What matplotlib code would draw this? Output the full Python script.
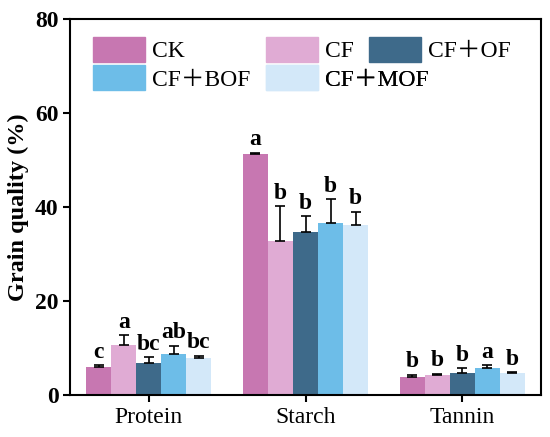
import numpy as np
import matplotlib
matplotlib.use('Agg')
import matplotlib.pyplot as plt
from matplotlib.patches import Patch

plt.rcParams['font.family'] = ['Liberation Serif', 'Noto Sans CJK SC']

# Datos
categorias = ['Protein', 'Starch', 'Tannin']
tratamientos = ['CK', 'CF', 'CF＋OF', 'CF＋BOF', 'CF＋MOF']
colores = ['#c777b1', '#e0abd4', '#3e6a8a', '#6dbde8', '#d3e8f9']

valores = {
    'CK':      [6.0, 51.3, 4.0],
    'CF':      [10.8, 32.8, 4.3],
    'CF＋OF':  [7.0, 34.7, 4.7],
    'CF＋BOF': [8.9, 36.7, 5.9],
    'CF＋MOF': [8.0, 36.3, 4.7],
}
errores = {
    'CK':      [0.5, 0.3, 0.4],
    'CF':      [2.0, 7.4, 0.3],
    'CF＋OF':  [1.1, 3.4, 1.1],
    'CF＋BOF': [1.7, 5.1, 0.5],
    'CF＋MOF': [0.5, 2.8, 0.3],
}
letras = {
    'CK':      ['c', 'a', 'b'],
    'CF':      ['a', 'b', 'b'],
    'CF＋OF':  ['bc', 'b', 'b'],
    'CF＋BOF': ['ab', 'b', 'a'],
    'CF＋MOF': ['bc', 'b', 'b'],
}

fig, ax = plt.subplots(figsize=(5.5, 4.37), dpi=100)
fig.subplots_adjust(left=0.128, right=0.983, top=0.956, bottom=0.095)

x = np.arange(len(categorias))
ancho = 0.16

for i, t in enumerate(tratamientos):
    pos = x + (i - 2) * ancho
    v = np.array(valores[t])
    e = np.array(errores[t])
    ax.bar(pos, v, ancho, color=colores[i], zorder=2)
    ax.errorbar(pos, v, yerr=[np.zeros_like(e), e], fmt='none', ecolor='black',
                elinewidth=1.2, capsize=3.5, capthick=1.2, zorder=3)
    for p, val, err, l in zip(pos, v, e, letras[t]):
        ax.text(p, val + err + 0.5, l, ha='center', va='bottom',
                fontsize=17, fontweight='bold')

ax.set_xlim(-0.5, 2.5)
ax.set_ylim(0, 80)
ax.set_yticks([0, 20, 40, 60, 80])
ax.set_xticks(x)
ax.set_xticklabels(categorias, fontsize=17)
ax.tick_params(axis='y', labelsize=17, width=1.5, length=5, direction='out')
ax.tick_params(axis='x', width=1.5, length=5, direction='out')
for lab in ax.get_yticklabels():
    lab.set_fontweight('bold')
for s in ax.spines.values():
    s.set_linewidth(1.5)

ax.set_ylabel('Grain quality (%)', fontsize=17.5, fontweight='bold')

# Leyenda: una entrada por posicion (filas solapadas como en la figura)
pos_leyenda = [(0.049, 0.953), (0.416, 0.953), (0.635, 0.953),
               (0.049, 0.878), (0.416, 0.878)]
for i, t in enumerate(tratamientos):
    leg = ax.legend(handles=[Patch(color=colores[i], label=t)], loc='upper left',
                    bbox_to_anchor=pos_leyenda[i], frameon=False, fontsize=17,
                    handlelength=2.2, handleheight=1.25, handletextpad=0.3,
                    borderpad=0, borderaxespad=0)
    ax.add_artist(leg)

plt.savefig('out.png', dpi=100)
